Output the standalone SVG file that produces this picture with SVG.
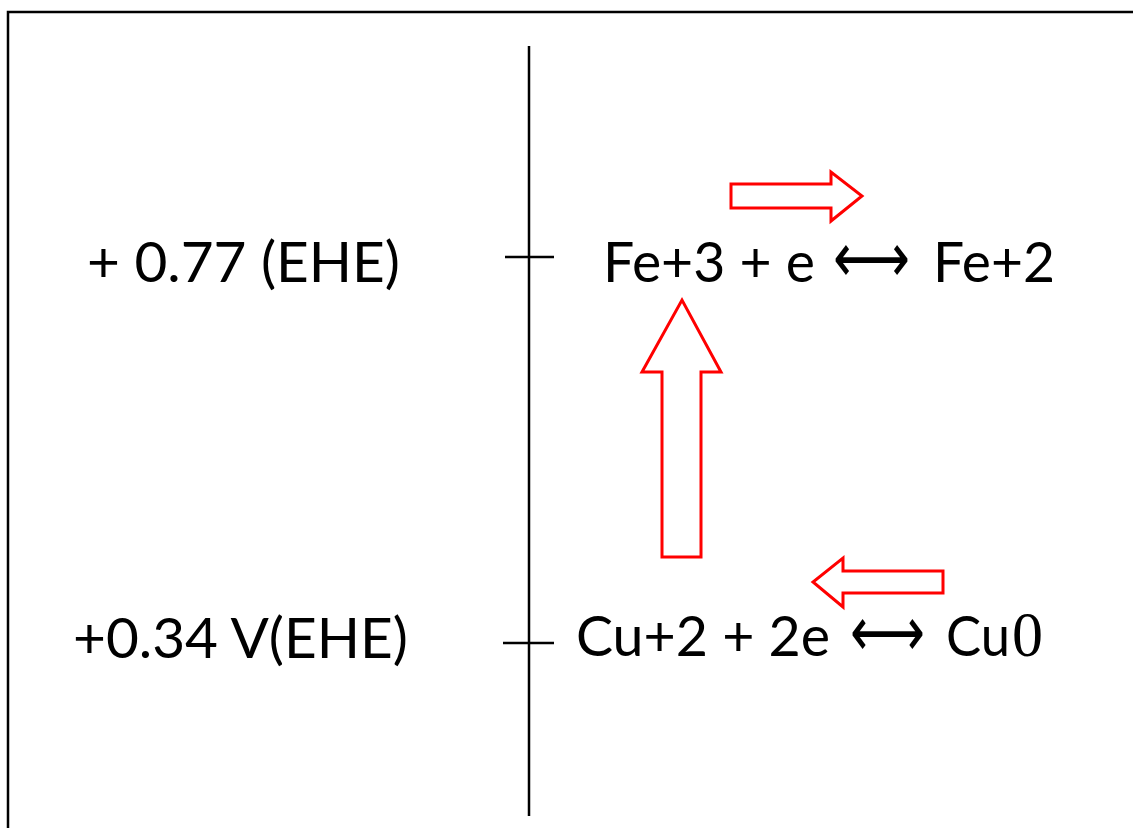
<svg xmlns="http://www.w3.org/2000/svg" width="1133" height="828" viewBox="0 0 1133 828">
<style>
.t{font-family:Lato,"Open Sans","Liberation Sans",sans-serif;font-size:56px;fill:#000}
.ar{font-family:"DejaVu Sans",sans-serif;font-size:70px;fill:#000}
.ser{font-family:"Liberation Serif",serif;font-size:64px;fill:#000}
.ax{stroke:#000;stroke-width:2.5;fill:none}
.red{fill:#fff;stroke:#f00;stroke-width:3;stroke-linejoin:miter}
</style>
<rect width="1133" height="828" fill="#fff"/>
<g id="frame"><path class="ax" d="M8 828 V12 H1133" stroke-width="3"/></g>
<g id="axis">
<line class="ax" x1="529" y1="46" x2="529" y2="816"/>
<line class="ax" x1="505" y1="257" x2="554" y2="257"/>
<line class="ax" x1="503" y1="643" x2="554" y2="643"/>
</g>
<g id="label-fe"><text class="t" x="87" y="282" textLength="313" lengthAdjust="spacingAndGlyphs">+ 0.77 (EHE)</text></g>
<g id="label-cu"><text class="t" x="73" y="658" textLength="335" lengthAdjust="spacingAndGlyphs">+0.34 V(EHE)</text></g>
<g id="eq-fe">
<text class="t" x="603" y="282" textLength="212" lengthAdjust="spacingAndGlyphs">Fe+3 + e</text>
<text class="ar" x="833" y="282" textLength="77" lengthAdjust="spacingAndGlyphs">⟷</text>
<text class="t" x="933" y="282" textLength="122" lengthAdjust="spacingAndGlyphs">Fe+2</text>
</g>
<g id="eq-cu">
<text class="t" x="576" y="656" textLength="254" lengthAdjust="spacingAndGlyphs">Cu+2 + 2e</text>
<text class="ar" x="850" y="656" textLength="75" lengthAdjust="spacingAndGlyphs">⟷</text>
<text class="t" x="946" y="656" textLength="64" lengthAdjust="spacingAndGlyphs">Cu</text>
<text class="ser" x="1012" y="656" textLength="31" lengthAdjust="spacingAndGlyphs">0</text>
</g>
<g id="connectors">
<path id="arrow-right" class="red" d="M731 184 H831 V172 L862 196 L831 221 V208 H731 Z"/>
<path id="arrow-up" class="red" d="M662 557 V372 H642 L682 300 L721 372 H701 V557 Z"/>
<path id="arrow-left" class="red" d="M943 571 H843 V558 L813 582 L843 607 V593 H943 Z"/>
</g>
</svg>
